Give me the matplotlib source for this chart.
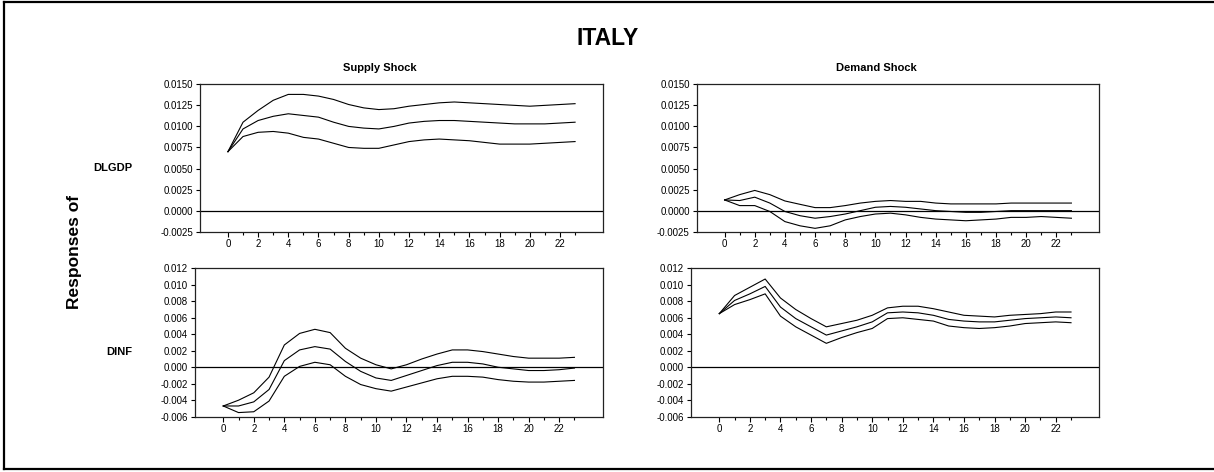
import matplotlib
matplotlib.use("Agg")
import matplotlib.pyplot as plt
import numpy as np
from matplotlib.lines import Line2D

plt.rcParams["font.family"] = ["Liberation Sans", "DejaVu Sans"]

W, H = 1214, 472

horizon = list(range(24))

# DLGDP response to supply shock (upper band, estimate, lower band)
gdp_supply_hi = [0.0070, 0.0105, 0.0119, 0.0131, 0.0138, 0.0138, 0.0136, 0.0132, 0.0126, 0.0122,
                 0.0120, 0.0121, 0.0124, 0.0126, 0.0128, 0.0129, 0.0128, 0.0127, 0.0126, 0.0125,
                 0.0124, 0.0125, 0.0126, 0.0127]
gdp_supply_mid = [0.0070, 0.0097, 0.0107, 0.0112, 0.0115, 0.0113, 0.0111, 0.0105, 0.0100, 0.0098,
                  0.0097, 0.0100, 0.0104, 0.0106, 0.0107, 0.0107, 0.0106, 0.0105, 0.0104, 0.0103,
                  0.0103, 0.0103, 0.0104, 0.0105]
gdp_supply_lo = [0.0070, 0.0088, 0.0093, 0.0094, 0.0092, 0.0087, 0.0085, 0.0080, 0.0075, 0.0074,
                 0.0074, 0.0078, 0.0082, 0.0084, 0.0085, 0.0084, 0.0083, 0.0081, 0.0079, 0.0079,
                 0.0079, 0.0080, 0.0081, 0.0082]

# DLGDP response to demand shock
gdp_demand_hi = [0.00127, 0.0019, 0.0024, 0.0019, 0.00115, 0.00075, 0.00036, 0.00036, 0.0006, 0.0009,
                 0.0011, 0.0012, 0.0011, 0.0011, 0.0009, 0.0008, 0.0008, 0.0008, 0.0008, 0.0009,
                 0.0009, 0.0009, 0.0009, 0.0009]
gdp_demand_mid = [0.00127, 0.0012, 0.0016, 0.0009, -0.0001, -0.0006, -0.0009, -0.0007, -0.0004, 0.0000,
                  0.0004, 0.0005, 0.0004, 0.0002, 0.0000, -0.0001, -0.0002, -0.0002, -0.0001, 0.0000,
                  0.0000, 0.0000, 0.0000, 0.0000]
gdp_demand_lo = [0.00127, 0.0006, 0.0006, -0.0001, -0.0013, -0.0018, -0.0021, -0.0018, -0.0011, -0.0007,
                 -0.0004, -0.0003, -0.0005, -0.0008, -0.0010, -0.0011, -0.0012, -0.0011, -0.0010, -0.0008,
                 -0.0008, -0.0007, -0.0008, -0.0009]

# DINF response to supply shock
inf_supply_hi = [-0.0047, -0.0040, -0.0031, -0.0012, 0.0027, 0.0041, 0.0046, 0.0042, 0.0023, 0.0011,
                 0.0003, -0.0002, 0.0003, 0.0010, 0.0016, 0.0021, 0.0021, 0.0019, 0.0016, 0.0013,
                 0.0011, 0.0011, 0.0011, 0.0012]
inf_supply_mid = [-0.0047, -0.0047, -0.0042, -0.0027, 0.0008, 0.0021, 0.0025, 0.0022, 0.0007, -0.0005,
                  -0.0013, -0.0016, -0.0010, -0.0004, 0.0002, 0.0006, 0.0006, 0.0004, 0.0000, -0.0002,
                  -0.0004, -0.0004, -0.0003, -0.0001]
inf_supply_lo = [-0.0047, -0.0055, -0.0054, -0.0041, -0.0011, 0.0001, 0.0006, 0.0003, -0.0011, -0.0021,
                 -0.0026, -0.0029, -0.0024, -0.0019, -0.0014, -0.0011, -0.0011, -0.0012, -0.0015, -0.0017,
                 -0.0018, -0.0018, -0.0017, -0.0016]

# DINF response to demand shock
inf_demand_hi = [0.0065, 0.0087, 0.0097, 0.0107, 0.0084, 0.0070, 0.0059, 0.0049, 0.0053, 0.0057,
                 0.0063, 0.0072, 0.0074, 0.0074, 0.0071, 0.0067, 0.0063, 0.0062, 0.0061, 0.0063,
                 0.0064, 0.0065, 0.0067, 0.0067]
inf_demand_mid = [0.0065, 0.0081, 0.0089, 0.0098, 0.0073, 0.0059, 0.0049, 0.0039, 0.0044, 0.0049,
                  0.0055, 0.0066, 0.0067, 0.0066, 0.0063, 0.0058, 0.0056, 0.0055, 0.0055, 0.0057,
                  0.0059, 0.0060, 0.0061, 0.0060]
inf_demand_lo = [0.0065, 0.0076, 0.0082, 0.0089, 0.0062, 0.0049, 0.0039, 0.0029, 0.0036, 0.0042,
                 0.0047, 0.0059, 0.0060, 0.0058, 0.0056, 0.0050, 0.0048, 0.0047, 0.0048, 0.0050,
                 0.0053, 0.0054, 0.0055, 0.0054]

gdp_yticks = [-0.0025, 0.0, 0.0025, 0.0050, 0.0075, 0.0100, 0.0125, 0.0150]
inf_yticks = [-0.006, -0.004, -0.002, 0.0, 0.002, 0.004, 0.006, 0.008, 0.010, 0.012]
shock_titles = ["Supply Shock", "Demand Shock"]
var_names = ["DLGDP", "DINF"]


def px_rect(x0, y0, x1, y1):
    return [x0 / W, 1 - y1 / H, (x1 - x0) / W, (y1 - y0) / H]


def draw_panel(ax, bands, yticks, fmt):
    for series in bands:
        ax.plot(horizon, series, color="black", lw=0.8)
    ax.axhline(0.0, color="black", lw=0.9)
    ax.set_xlim(-1.85, 24.85)
    ax.set_ylim(yticks[0], yticks[-1])
    ax.set_yticks(yticks, labels=[fmt.format(v) for v in yticks])
    ax.set_xticks(np.arange(0, 24, 2))
    ax.set_xticks(np.arange(1, 24, 2), minor=True)
    ax.tick_params(axis="x", which="major", direction="out", length=3.5, width=0.8, labelsize=7, pad=2)
    ax.tick_params(axis="x", which="minor", direction="out", length=2.2, width=0.8)
    ax.tick_params(axis="y", direction="out", length=3, width=0.8, labelsize=7, pad=2)
    for spine in ax.spines.values():
        spine.set_linewidth(0.9)
        spine.set_color("#222222")


fig = plt.figure(figsize=(W / 100, H / 100), dpi=100)

ax_tl = fig.add_axes(px_rect(200, 84.3, 603, 231.7))
ax_tr = fig.add_axes(px_rect(696.7, 84.3, 1099.3, 231.7))
ax_bl = fig.add_axes(px_rect(195, 268.3, 602.7, 416.7))
ax_br = fig.add_axes(px_rect(691, 268.3, 1099.3, 416.7))

draw_panel(ax_tl, [gdp_supply_hi, gdp_supply_mid, gdp_supply_lo], gdp_yticks, "{:.4f}")
draw_panel(ax_tr, [gdp_demand_hi, gdp_demand_mid, gdp_demand_lo], gdp_yticks, "{:.4f}")
draw_panel(ax_bl, [inf_supply_hi, inf_supply_mid, inf_supply_lo], inf_yticks, "{:.3f}")
draw_panel(ax_br, [inf_demand_hi, inf_demand_mid, inf_demand_lo], inf_yticks, "{:.3f}")

fig.text(608 / W, 1 - 38.5 / H, "ITALY", ha="center", va="center", fontsize=16.5, fontweight="bold")
fig.text(380 / W, 1 - 68 / H, shock_titles[0], ha="center", va="center", fontsize=8, fontweight="bold")
fig.text(876 / W, 1 - 68 / H, shock_titles[1], ha="center", va="center", fontsize=8, fontweight="bold")
fig.text(132 / W, 1 - 168 / H, var_names[0], ha="right", va="center", fontsize=8, fontweight="bold")
fig.text(132 / W, 1 - 352 / H, var_names[1], ha="right", va="center", fontsize=8, fontweight="bold")
fig.text(75 / W, 1 - 252 / H, "Responses of", ha="center", va="center", rotation=90,
         fontsize=12.5, fontweight="bold")

# outer frame (right edge is cropped in the original)
frame_kw = dict(color="black", lw=1.6, transform=fig.transFigure)
fig.add_artist(Line2D([3.5 / W, 3.5 / W], [1 - 1.5 / H, 1 - 468.5 / H], **frame_kw))
fig.add_artist(Line2D([3.5 / W, 1.0], [1 - 1.5 / H, 1 - 1.5 / H], **frame_kw))
fig.add_artist(Line2D([3.5 / W, 1.0], [1 - 468.5 / H, 1 - 468.5 / H], **frame_kw))

fig.savefig("out.png", dpi=100)
